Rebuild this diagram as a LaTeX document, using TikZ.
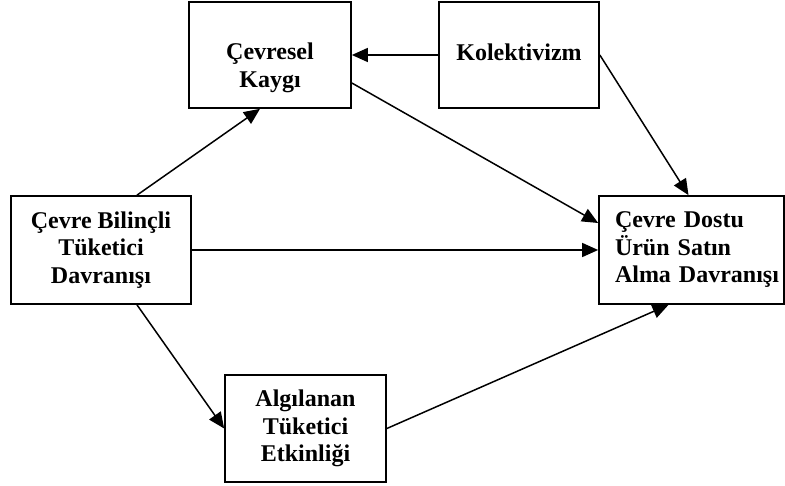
\documentclass[tikz,border=0pt]{standalone}
\usepackage{fontspec}
\setmainfont{Liberation Serif}
\usetikzlibrary{arrows.meta,calc}
\begin{document}
\begin{tikzpicture}[x=1pt,y=-1pt,
  box/.style={draw, line width=1.7pt, font=\fontsize{24}{27.5}\selectfont\bfseries, align=center, inner sep=0pt},
  arr/.style={line width=1.5pt, -{Triangle[length=16pt,width=14pt]}}]
\useasboundingbox (0,0) rectangle (785,486);
\node[box, minimum width=162pt, minimum height=106pt] (cev) at (270,55) {\rule{0pt}{42pt}Çevresel\\Kaygı};
\node[box, minimum width=160pt, minimum height=106pt] (kol) at (519,55) {Kolektivizm\rule[-6pt]{0pt}{6pt}};
\node[box, minimum width=180pt, minimum height=108pt] (cb) at (101,250) {Çevre Bilinçli\\Tüketici\\Davranışı};
\node[box, align=left, text width=153pt, inner xsep=16pt, minimum height=108pt] (dos) at (691.5,250) {Çevre Dostu\\Ürün Satın\\Alma~Davranışı};
\node[box, minimum width=161pt, minimum height=107pt] (alg) at (305.5,428.5) {Algılanan\\Tüketici\\Etkinliği};
\draw[arr] (kol.west) -- (cev.east);
\draw[arr] ($(cev.east)+(0,28)$) -- ($(dos.west)+(0,-27)$);
\draw[arr] (kol.east) -- ($(dos.north)+(-3,0)$);
\draw[arr] ($(cb.north)+(36,0)$) -- ($(cev.south)+(-10,0)$);
\draw[arr] (cb.east) -- (dos.west);
\draw[arr] ($(cb.south)+(36,0)$) -- (alg.west);
\draw[arr] (alg.east) -- ($(dos.south)+(-23,0)$);
\end{tikzpicture}
\end{document}
